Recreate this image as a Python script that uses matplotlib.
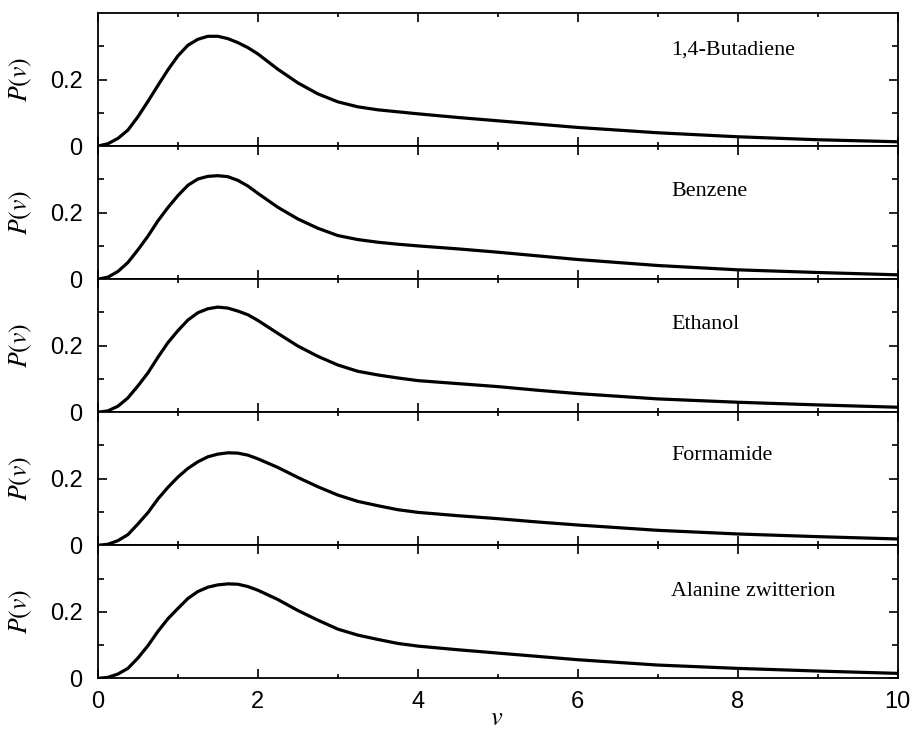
import matplotlib.pyplot as plt

# values
v = [0, 0.125, 0.25, 0.375, 0.5, 0.625, 0.75, 0.875, 1.0, 1.125, 1.25, 1.375,
     1.5, 1.625, 1.75, 1.875, 2.0, 2.25, 2.5, 2.75, 3.0, 3.25, 3.5, 3.75,
     4.0, 4.5, 5, 5.5, 6, 7, 8, 9, 10]

butadiene = [0, 0.007, 0.023, 0.048, 0.088, 0.134, 0.182, 0.229, 0.271, 0.303,
             0.321, 0.330, 0.330, 0.323, 0.311, 0.296, 0.277, 0.231, 0.190,
             0.157, 0.133, 0.118, 0.109, 0.103, 0.097, 0.086, 0.076, 0.066,
             0.056, 0.040, 0.028, 0.019, 0.013]
benzene = [0, 0.006, 0.023, 0.050, 0.088, 0.129, 0.175, 0.215, 0.251, 0.282,
           0.301, 0.309, 0.311, 0.308, 0.297, 0.280, 0.258, 0.216, 0.181,
           0.153, 0.131, 0.119, 0.111, 0.105, 0.100, 0.091, 0.081, 0.070,
           0.059, 0.041, 0.028, 0.020, 0.013]
ethanol = [0, 0.004, 0.018, 0.043, 0.079, 0.118, 0.165, 0.209, 0.245, 0.277,
           0.299, 0.311, 0.316, 0.313, 0.304, 0.293, 0.276, 0.237, 0.199,
           0.168, 0.142, 0.123, 0.112, 0.103, 0.095, 0.086, 0.077, 0.066,
           0.056, 0.040, 0.030, 0.022, 0.015]
formamide = [0, 0.003, 0.014, 0.032, 0.064, 0.098, 0.139, 0.174, 0.205, 0.231,
             0.251, 0.266, 0.274, 0.278, 0.277, 0.271, 0.260, 0.234, 0.204,
             0.176, 0.151, 0.132, 0.119, 0.107, 0.099, 0.089, 0.080, 0.070,
             0.061, 0.045, 0.034, 0.026, 0.019]
alanine = [0, 0.003, 0.013, 0.030, 0.061, 0.098, 0.141, 0.179, 0.210, 0.240,
           0.261, 0.274, 0.281, 0.284, 0.283, 0.276, 0.265, 0.237, 0.204,
           0.175, 0.148, 0.130, 0.117, 0.105, 0.097, 0.086, 0.076, 0.066,
           0.056, 0.040, 0.030, 0.022, 0.015]

names = ['1,4-Butadiene', 'Benzene', 'Ethanol', 'Formamide', 'Alanine zwitterion']
series = [butadiene, benzene, ethanol, formamide, alanine]
label_y = [0.29, 0.262, 0.263, 0.27, 0.262]

plt.rcParams['font.family'] = ['Liberation Sans', 'DejaVu Sans']
plt.rcParams['mathtext.fontset'] = 'stix'

fig, axes = plt.subplots(5, 1, figsize=(9.15, 7.43), dpi=100, sharex=True)
fig.subplots_adjust(left=0.107, right=0.981, top=0.9825, bottom=0.087, hspace=0)

for ax, name, p, ly in zip(axes, names, series, label_y):
    ax.plot(v, p, color='black', lw=2.3, solid_joinstyle='round')
    ax.set_xlim(0, 10)
    ax.set_ylim(0, 0.4)
    ax.set_xticks([0, 2, 4, 6, 8, 10])
    ax.set_xticks([1, 3, 5, 7, 9], minor=True)
    ax.set_yticks([0, 0.2])
    ax.set_yticklabels(['0', '0.2'])
    ax.set_yticks([0.1, 0.3], minor=True)
    ax.tick_params(which='both', direction='in', top=True, right=True,
                   width=1.2, labelsize=17, color='black')
    ax.tick_params(axis='x', which='major', length=6.5, pad=9)
    ax.tick_params(axis='x', which='minor', length=3.2)
    ax.tick_params(axis='y', which='major', length=6.5, pad=11)
    ax.tick_params(axis='y', which='minor', length=4.5)
    for s in ax.spines.values():
        s.set_linewidth(1.3)
    ax.set_ylabel('$P(v)$', fontsize=18.5)
    ax.yaxis.set_label_coords(-0.08, 0.5)
    ax.text(7.17, ly, name, fontsize=15.8, family='Liberation Serif',
            ha='left', va='center')

fig.text(497 / 915, 1 - 718 / 743, '$v$', fontsize=19, ha='center', va='center')

fig.savefig('out.png', dpi=100)
